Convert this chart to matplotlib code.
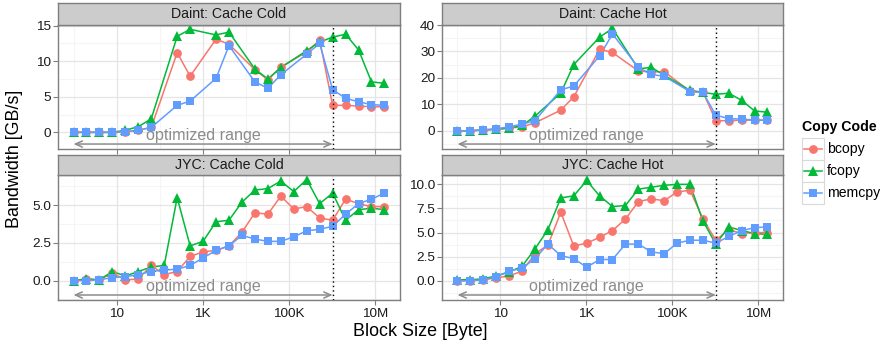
import numpy as np
import matplotlib
matplotlib.use('Agg')
import matplotlib.pyplot as plt
from matplotlib.lines import Line2D
from matplotlib.patches import Rectangle
import matplotlib.transforms as mtransforms

plt.rcParams['font.family'] = ['Liberation Sans', 'DejaVu Sans']

W, H = 881, 343

# block sizes: 2^0 .. 2^24 bytes
block_exp = list(range(25))
opt_limit_exp = 20

codes = ['bcopy', 'fcopy', 'memcpy']
panel_titles = ['Daint: Cache Cold', 'Daint: Cache Hot', 'JYC: Cache Cold', 'JYC: Cache Hot']

# None = not measured
daint_cold = {
    'bcopy':  [0, 0, 0, 0, 0.1, 0.3, 0.7, None, 11.2, 7.9, None, 13.1, 12.4, None, 8.8, 7.4, 9.2, None, 11.3, 13.0, 3.8, 3.8, 3.7, 3.6, 3.6],
    'fcopy':  [0, 0, 0, 0, 0.3, 0.8, 1.9, None, 13.5, 14.5, None, 13.7, 14.1, None, 8.9, 7.5, 9.1, None, 11.5, 12.7, 13.4, 13.8, 11.6, 7.1, 6.9],
    'memcpy': [0, 0, 0, 0, 0.1, 0.3, 0.7, None, 3.8, 4.4, None, 7.6, 12.2, None, 7.1, 6.2, 8.1, None, 11.0, 12.5, 6.0, 4.8, 4.3, 3.9, 3.8],
}
daint_hot = {
    'bcopy':  [0, 0, 0.3, 0.7, 1.0, 1.5, 3.0, None, 7.8, 12.8, None, 30.8, 29.6, None, 22.6, 22.2, 22.4, None, 14.9, 14.7, 3.8, 3.8, 4.0, 4.0, 4.0],
    'fcopy':  [0, 0, 0.3, 0.5, 1.0, 2.0, 5.5, None, 14.3, 25.0, None, 35.4, 38.7, None, 23.4, 24.0, 21.0, None, 15.3, 14.5, 13.8, 14.2, 11.5, 7.5, 7.0],
    'memcpy': [0, 0, 0.3, 0.7, 1.5, 2.5, 3.8, None, 15.5, 16.9, None, 28.3, 36.6, None, 24.0, 21.3, 20.6, None, 14.8, 14.5, 5.9, 4.6, 4.4, 4.0, 4.0],
}
jyc_cold = {
    'bcopy':  [0, 0.1, 0.05, 0.5, 0.05, 0.1, 1.0, 0.4, 0.6, 1.6, 1.9, 2.0, 2.3, 3.2, 4.5, 4.4, 5.6, 4.75, 4.9, 4.15, 4.0, 5.4, 5.1, 4.9, 4.9],
    'fcopy':  [0, 0.1, 0.05, 0.6, 0.3, 0.6, 0.9, 1.0, 5.5, 2.3, 2.6, 3.9, 4.0, 5.2, 6.0, 6.1, 6.6, 5.9, 6.7, 5.1, 5.8, 4.0, 4.7, 4.8, 4.7],
    'memcpy': [0, 0, 0.05, 0.2, 0.25, 0.4, 0.6, 0.7, 0.75, 1.0, 1.5, 2.0, 2.3, 3.0, 2.75, 2.6, 2.6, 2.9, 3.3, 3.4, 3.6, 4.4, 5.1, 5.4, 5.8],
}
jyc_hot = {
    'bcopy':  [0, 0, 0.1, 0.3, 0.5, 1.0, 2.8, 3.7, 7.1, 3.6, 3.9, 4.5, 5.2, 6.4, 8.2, 8.5, 8.3, 9.2, 9.4, 6.4, 4.2, 5.3, 4.9, 5.0, 5.0],
    'fcopy':  [0.1, 0.1, 0.2, 0.5, 0.9, 1.5, 3.3, 5.3, 8.6, 8.8, 10.4, 8.8, 7.7, 7.8, 9.5, 9.7, 9.9, 10.0, 10.0, 6.2, 3.8, 5.6, 5.2, 4.9, 4.8],
    'memcpy': [0, 0, 0.1, 0.4, 1.0, 1.3, 2.3, 3.8, 2.6, 2.3, 1.4, 2.2, 2.2, 3.8, 3.8, 3.0, 2.8, 3.9, 4.2, 4.2, 3.9, 4.6, 5.2, 5.5, 5.6],
}
panel_data = [daint_cold, daint_hot, jyc_cold, jyc_hot]

panel_ylim = [(-2.34, 15.1), (-6.9, 40.0), (-1.29, 7.0), (-2.0, 10.97)]
panel_yticks = [[0, 5, 10, 15], [0, 10, 20, 30, 40], [0, 2.5, 5.0], [0, 2.5, 5.0, 7.5, 10.0]]
panel_yfmt = ['%d', '%d', '%.1f', '%.1f']
xticks = [10, 1e3, 1e5, 1e7]
xticklabels = ['10', '1K', '100K', '10M']
xminor = [1, 1e2, 1e4, 1e6]

colors = {'bcopy': '#F8766D', 'fcopy': '#00BA38', 'memcpy': '#619CFF'}
markers = {'bcopy': ('o', 6.3), 'fcopy': ('^', 7.6), 'memcpy': ('s', 6.4)}
border = '#7F7F7F'


def px_rect(x0, y0, x1, y1):
    return [x0 / W, 1 - y1 / H, (x1 - x0) / W, (y1 - y0) / H]


fig = plt.figure(figsize=(W / 100, H / 100), dpi=100)

cols = [(58, 400), (442, 783)]
rows = [(3, 25, 149), (155, 175, 300)]      # strip top, panel top, panel bottom

x = np.array([2.0 ** e for e in block_exp])

for i, data in enumerate(panel_data):
    c0, c1 = cols[i % 2]
    st, pt, pb = rows[i // 2]

    ax = fig.add_axes(px_rect(c0, pt, c1, pb))
    ax.set_xscale('log')
    ax.set_xlim(10 ** -0.361, 10 ** 7.586)
    ax.set_ylim(*panel_ylim[i])
    ax.set_facecolor('white')

    # grid
    yt = panel_yticks[i]
    step = yt[1] - yt[0]
    yminor = np.arange(yt[0] - step / 2, yt[-1] + step, step)
    for v in xminor:
        ax.axvline(v, color='#F5F5F5', lw=0.8, zorder=0)
    for v in yminor:
        ax.axhline(v, color='#F5F5F5', lw=0.8, zorder=0)
    for v in xticks:
        ax.axvline(v, color='#E5E5E5', lw=0.9, zorder=0.5)
    for v in yt:
        ax.axhline(v, color='#E5E5E5', lw=0.9, zorder=0.5)

    # lines first, then points (like ggplot layers)
    for code in codes:
        y = np.array([np.nan if v is None else v for v in data[code]], dtype=float)
        ok = ~np.isnan(y)
        ax.plot(x[ok], y[ok], color=colors[code], lw=1.1, zorder=2)
    for code in codes:
        y = np.array([np.nan if v is None else v for v in data[code]], dtype=float)
        ok = ~np.isnan(y)
        m, ms = markers[code]
        ax.plot(x[ok], y[ok], ls='none', marker=m, ms=ms, color=colors[code],
                markeredgewidth=0, zorder=3)

    # optimized range annotation
    ax.axvline(2.0 ** opt_limit_exp, color='black', lw=1.0, ls=(0, (1, 2.2)), zorder=4)
    trans = mtransforms.blended_transform_factory(ax.transData, ax.transAxes)
    ax.annotate('', xy=(1, 0.04), xytext=(2.0 ** opt_limit_exp, 0.04),
                xycoords=trans, textcoords=trans,
                arrowprops=dict(arrowstyle='<->,head_length=0.5,head_width=0.22',
                                color='#8C8C8C', lw=1.1, shrinkA=0, shrinkB=0),
                zorder=4)
    ax.text(2.0 ** 10, 0.11, 'optimized range', transform=trans, ha='center', va='center',
            color='#8C8C8C', fontsize=11.6, zorder=4)

    ax.set_yticks(yt)
    ax.set_yticklabels([panel_yfmt[i] % v for v in yt])
    ax.set_xticks(xticks)
    ax.minorticks_off()
    if i // 2 == 1:
        ax.set_xticklabels(xticklabels)
    else:
        ax.set_xticklabels([])
    ax.tick_params(axis='both', length=3.5, width=0.8, color='#7F7F7F', labelsize=9.7,
                   labelcolor='#1A1A1A', pad=1.5)
    ax.tick_params(axis='x', pad=2.5)
    for s in ax.spines.values():
        s.set_color(border)
        s.set_linewidth(1.0)

    # facet strip
    sax = fig.add_axes(px_rect(c0, st, c1, pt))
    sax.set_facecolor('#CCCCCC')
    sax.set_xticks([])
    sax.set_yticks([])
    for s in sax.spines.values():
        s.set_color(border)
        s.set_linewidth(1.0)
    sax.text(0.5, 0.48, panel_titles[i], ha='center', va='center', fontsize=10.2,
             color='#1A1A1A', transform=sax.transAxes)

fig.text(15 / W, 1 - 159 / H, 'Bandwidth [GB/s]', rotation=90, ha='center', va='center',
         fontsize=12.9)
fig.text(420 / W, 1 - 332 / H, 'Block Size [Byte]', ha='center', va='center', fontsize=12.9)

# legend
lax = fig.add_axes([0, 0, 1, 1])
lax.set_xlim(0, W)
lax.set_ylim(H, 0)
lax.axis('off')
lax.text(802, 127, 'Copy Code', fontsize=10.2, fontweight='bold', ha='left', va='center')
key_tops = [138, 160, 182]
for code, kt in zip(codes, key_tops):
    lax.add_patch(Rectangle((802, kt), 21.5, 21.5, facecolor='white', edgecolor='#D9D9D9', lw=0.8))
    yc = kt + 10.75
    lax.add_line(Line2D([803.5, 822], [yc, yc], color=colors[code], lw=1.1))
    m, ms = markers[code]
    lax.plot([812.75], [yc], marker=m, ms=ms, color=colors[code], markeredgewidth=0)
    lax.text(827, yc, code, fontsize=10.1, ha='left', va='center')

fig.savefig('out.png', dpi=100)
